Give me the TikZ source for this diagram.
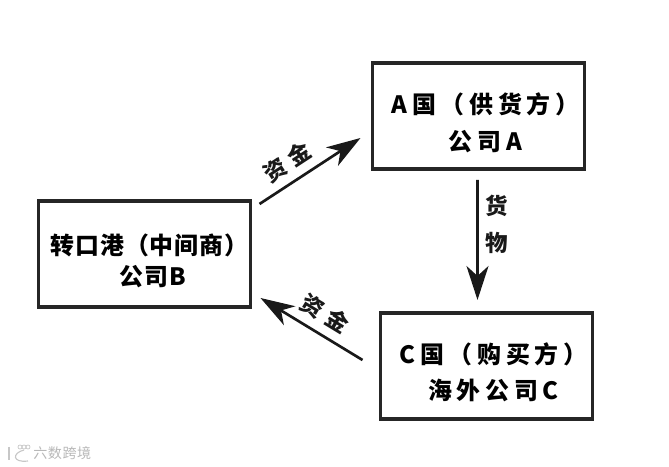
\documentclass[tikz,border=0pt]{standalone}
\usepackage{fontspec}
\setmainfont{Noto Sans CJK SC}[LetterSpace=4]
\newfontfamily\widecjk{Noto Sans CJK SC}[LetterSpace=20]
\newfontfamily\tallcjk{Noto Sans CJK SC}[LetterSpace=30]
\newcommand{\toppad}{\rule{0pt}{0.85cm}}
\usetikzlibrary{positioning,calc,arrows.meta}
\tikzset{
	tradebox/.style={draw=black!85,line width=2.2pt,fill=white,minimum height=2.65cm,minimum width=5.3cm,outer sep=0pt,align=center,inner sep=0pt,font=\fontsize{17}{28}\selectfont\bfseries},
	moneyflow/.style={-{Stealth[length=0.85cm,width=0.55cm,inset=0.25cm]},line width=1.9pt,black!90},
	flowlabel/.style={font=\fontsize{16}{26}\selectfont\tallcjk\bfseries,inner sep=0pt,align=center}
}
\begin{document}
\begin{tikzpicture}
	\useasboundingbox (0,0) rectangle (16.725,11.675);
	
	\node[tradebox] (middle) at (3.6125,5.325) {\toppad\hspace*{0.25cm}转口港（中间商）\\[-6pt]\hspace*{0.4cm}公司B};
	\node[tradebox,above right=0.8cm and 3.05cm of middle.north east,anchor=south west] (supplier) {\toppad\hspace*{0.35cm}\widecjk\bfseries A国（供货方）\\[-2pt]\hspace*{0.35cm}\widecjk\bfseries 公司A};
	\node[tradebox,below=3.6cm of supplier,xshift=0.2cm] (buyer) {\toppad\hspace*{0.35cm}\widecjk\bfseries C国（购买方）\\[-2.5pt]\hspace*{0.35cm}\widecjk\bfseries 海外公司C};
	
	\coordinate[shift={(0.225,-0.075)}] (pay1s) at (middle.north east);
	\coordinate[shift={(-0.3,0.775)}] (pay1e) at (supplier.south west);
	\coordinate[shift={(-0.025,-0.275)}] (goodss) at (supplier.south);
	\coordinate[shift={(-0.225,0.325)}] (goodse) at (buyer.north);
	\coordinate[shift={(-0.45,0.15)}] (pay2s) at (buyer.west);
	\coordinate[shift={(0.25,0.225)}] (pay2e) at (middle.south east);
	
	\draw[moneyflow] (pay1s)--(pay1e) node[flowlabel,midway,sloped,above=0.2cm,xshift=-0.35cm] (pay1l) {资金};
	\draw[moneyflow] (goodss)--(goodse) node[flowlabel,midway,right=0.15cm,yshift=0.4cm,text width=0.6cm] (goodsl) {货\\[0.5pt]\tallcjk\bfseries 物};
	\draw[moneyflow] (pay2s)--(pay2e) node[flowlabel,midway,sloped,above=0.2cm,xshift=0.1cm] (pay2l) {资金};
	
	\draw[black!22,line width=0.8pt] (0.225,0.5)--(0.225,0.175);
	\draw[black!22,line width=0.8pt] (0.6,0.425) .. controls (0.3,0.35) and (0.3,0.1) .. (0.7,0.15);
	\foreach \i in {0.5,0.6,0.7}
		\draw[black!22,line width=0.5pt] (\i,0.5) circle (0.05);
	\node[font=\fontsize{10}{12}\selectfont,text=black!28,anchor=west,inner sep=0pt] (mark) at (0.825,0.35) {六数跨境};
\end{tikzpicture}
\end{document}
